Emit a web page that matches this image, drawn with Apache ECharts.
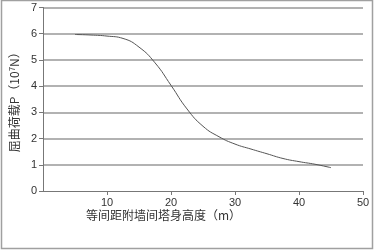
<!DOCTYPE html>
<html><head><meta charset="utf-8">
<script src="https://cdn.jsdelivr.net/npm/echarts@6/dist/echarts.min.js"></script>
<style>html,body{margin:0;padding:0;background:#fff}#c{width:375px;height:251px}</style>
</head><body><div id="c"></div>
<script>
const xValues = [5, 7.5, 10, 12.5, 15, 17.5, 20, 22.5, 25, 27.5, 30, 32.5, 35, 37.5, 40, 42.5, 45];
const loadValues = [5.97, 5.95, 5.91, 5.82, 5.49, 4.89, 4.03, 3.13, 2.47, 2.07, 1.79, 1.60, 1.42, 1.24, 1.12, 1.02, 0.89];
const xTicks = [0, 10, 20, 30, 40, 50];
const yTicks = [0, 1, 2, 3, 4, 5, 6, 7];
const xName = '等间距附墙间塔身高度（m）';
const yName = '屈曲荷载P（10{sup|7}N）';

const chart = echarts.init(document.getElementById('c'), null, {renderer: 'canvas'});
chart.setOption({
  animation: false,
  backgroundColor: '#fff',
  title: {
    text: xName, left: 86, top: 209, padding: 0,
    textStyle: {fontFamily: '"Noto Sans CJK SC"', fontSize: 12, fontWeight: 'normal', color: '#333'}
  },
  graphic: [{
    type: 'rect', silent: true, z: -1,
    shape: {x: 1.5, y: 0.5, width: 371, height: 248},
    style: {fill: 'none', stroke: '#a0a0a0', lineWidth: 1.5}
  }],
  grid: {left: 38.5, right: 12, top: 7.5, bottom: 60},
  xAxis: {
    type: 'value', min: xTicks[0], max: xTicks[xTicks.length - 1], interval: 10,
    axisLine: {lineStyle: {color: '#777', width: 1}},
    axisTick: {show: true, length: 4, lineStyle: {color: '#777'}},
    axisLabel: {showMinLabel: false, color: '#333', fontSize: 11, fontFamily: 'Liberation Sans', margin: 6},
    splitLine: {show: false}
  },
  yAxis: {
    type: 'value', min: yTicks[0], max: yTicks[yTicks.length - 1], interval: 1,
    name: yName, nameLocation: 'middle', nameGap: 21, nameRotate: 90,
    nameTextStyle: {fontFamily: '"Noto Sans CJK SC"', fontSize: 12, color: '#333',
      rich: {sup: {fontSize: 8, verticalAlign: 'top', fontFamily: '"Noto Sans CJK SC"', color: '#333', padding: [0, 0, 4, 0]}}},
    axisLine: {show: true, lineStyle: {color: '#777', width: 1}},
    axisTick: {show: true, length: 4, lineStyle: {color: '#777'}},
    axisLabel: {color: '#333', fontSize: 11, fontFamily: 'Liberation Sans', margin: 6},
    splitLine: {show: true, showMinLine: false, showMaxLine: true, lineStyle: {color: '#999', width: 1.5, type: 'solid'}}
  },
  series: [{
    type: 'line', smooth: 0.5, symbol: 'none',
    data: xValues.map((x, i) => [x, loadValues[i]]),
    lineStyle: {color: '#555', width: 1}
  }]
});
</script></body></html>
